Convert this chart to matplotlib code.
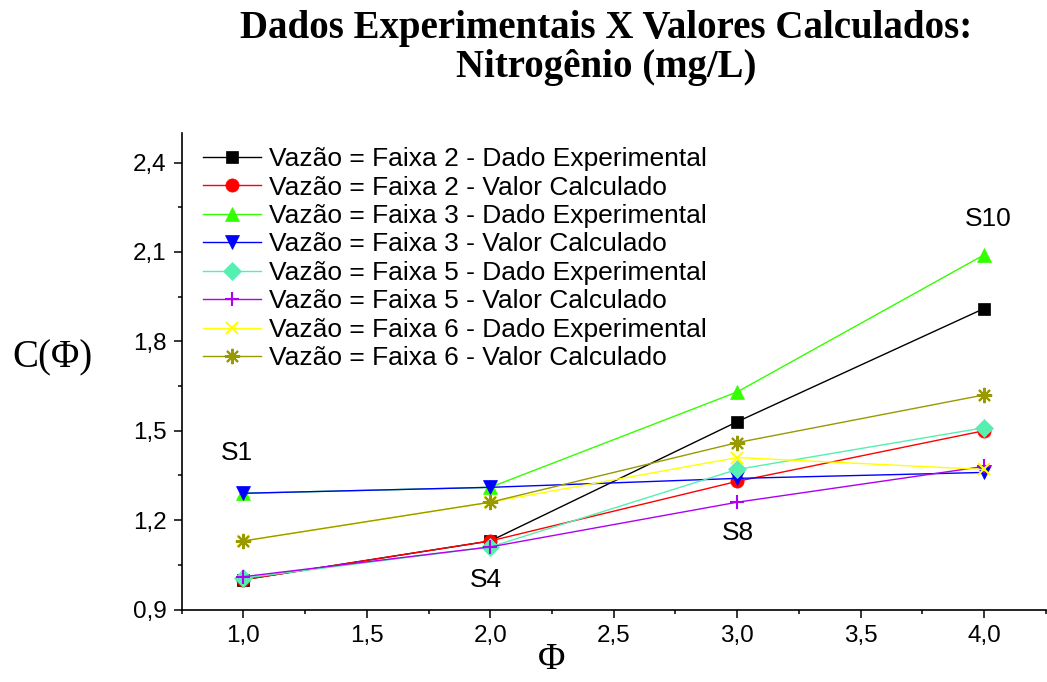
import matplotlib
matplotlib.use("Agg")
import matplotlib.pyplot as plt
from matplotlib.ticker import MultipleLocator, FuncFormatter

# leitura aproximada do grafico original
phi = [1.0, 2.0, 3.0, 4.0]

f2_exp = [1.00, 1.13, 1.53, 1.91]
f2_calc = [1.00, 1.13, 1.33, 1.50]
f3_exp = [1.29, 1.31, 1.63, 2.09]
f3_calc = [1.29, 1.31, 1.34, 1.36]
f5_exp = [1.005, 1.11, 1.37, 1.51]
f5_calc = [1.01, 1.11, 1.26, 1.38]
f6_exp = [1.13, 1.26, 1.41, 1.37]
f6_calc = [1.13, 1.26, 1.46, 1.62]

labels = [
    "Vazão = Faixa 2 - Dado Experimental",
    "Vazão = Faixa 2 - Valor Calculado",
    "Vazão = Faixa 3 - Dado Experimental",
    "Vazão = Faixa 3 - Valor Calculado",
    "Vazão = Faixa 5 - Dado Experimental",
    "Vazão = Faixa 5 - Valor Calculado",
    "Vazão = Faixa 6 - Dado Experimental",
    "Vazão = Faixa 6 - Valor Calculado",
]

pontos = ["S1", "S4", "S8", "S10"]
pontos_xy = [(0.975, 1.425), (1.983, 0.999), (3.003, 1.157), (4.015, 2.21)]

series = [f2_exp, f2_calc, f3_exp, f3_calc, f5_exp, f5_calc, f6_exp, f6_calc]
colors = ["#000000", "#FF0000", "#33FF00", "#0000FF",
          "#55F0B0", "#B000F0", "#FFFF00", "#999900"]
markers = ["s", "o", "^", "v", "D", "+", "x", (8, 2, 0)]
msizes = [9, 9.5, 10.5, 10.5, 9, 10, 9, 11]

sans = "Liberation Sans"
serif = "Liberation Serif"

fig = plt.figure(figsize=(10.47, 6.82), dpi=100)
ax = fig.add_axes([0.1735, 0.1063, 0.8253, 0.6991])

for ys, lab, c, m, ms in zip(series, labels, colors, markers, msizes):
    ax.plot(phi, ys, color=c, lw=1, marker=m, markersize=ms,
            markeredgewidth=1.5 if m in ("+", "x") or isinstance(m, tuple) else 0.5,
            markeredgecolor=c, label=lab)

for txt, (x, y) in zip(pontos, pontos_xy):
    ax.text(x, y, txt, ha="center", va="center", fontsize=19, family=sans)

ax.set_xlim(0.75, 4.25)
ax.set_ylim(0.9, 2.5)
ax.xaxis.set_major_locator(MultipleLocator(0.5))
ax.xaxis.set_minor_locator(MultipleLocator(0.25))
ax.yaxis.set_major_locator(MultipleLocator(0.3))
ax.yaxis.set_minor_locator(MultipleLocator(0.15))
fmt = FuncFormatter(lambda v, p: f"{v:.1f}".replace(".", ","))
ax.xaxis.set_major_formatter(fmt)
ax.yaxis.set_major_formatter(fmt)

ax.spines["top"].set_visible(False)
ax.spines["right"].set_visible(False)
for s in ("left", "bottom"):
    ax.spines[s].set_linewidth(1.2)
ax.tick_params(which="major", direction="out", length=6, width=1.1, pad=5)
ax.tick_params(which="minor", direction="out", length=3, width=1.1)
for t in ax.get_xticklabels() + ax.get_yticklabels():
    t.set_fontsize(17.5)
    t.set_family(sans)

ax.legend(loc="upper left", bbox_to_anchor=(0.025, 0.970), frameon=False,
          borderaxespad=0, borderpad=0, handlelength=2.2, handletextpad=0.3,
          labelspacing=0.17, prop={"family": sans, "size": 19})

fig.text(0.579, 0.985, "Dados Experimentais X Valores Calculados:\nNitrogênio (mg/L)",
         ha="center", va="top", fontsize=28, fontweight="bold", family=serif,
         linespacing=1.08)
fig.text(0.050, 0.475, "C(Φ)", ha="center", va="center", fontsize=28, family=serif)
fig.text(0.527, 0.032, "Φ", ha="center", va="center", fontsize=27, family=serif)

fig.savefig("out.png", dpi=100)
